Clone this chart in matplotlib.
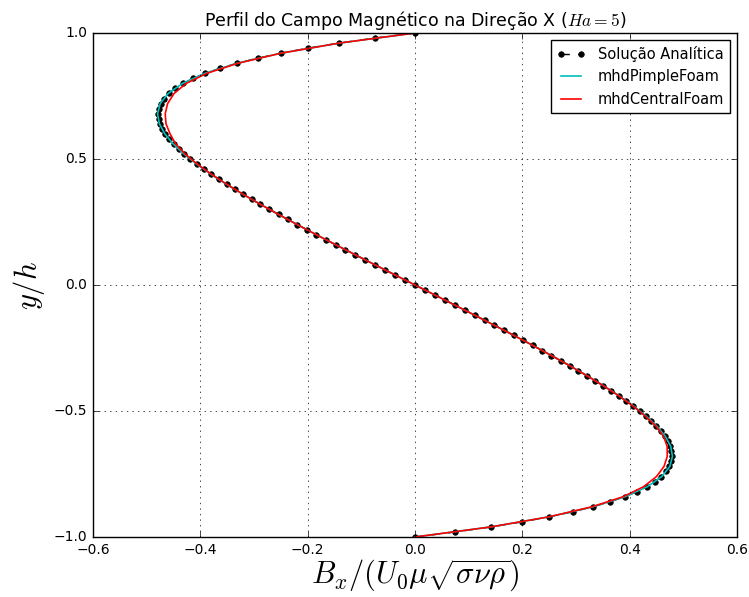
import matplotlib
matplotlib.use('Agg')
import matplotlib.pyplot as plt
import numpy as np

plt.style.use('classic')
plt.rcParams['mathtext.fontset'] = 'cm'
plt.rcParams['figure.facecolor'] = 'white'

# solucao analitica, y/h de -1 a 1 (passo 0.02), metade superior
y_analitica_sup = [0.00, 0.02, 0.04, 0.06, 0.08, 0.10, 0.12, 0.14, 0.16, 0.18,
                   0.20, 0.22, 0.24, 0.26, 0.28, 0.30, 0.32, 0.34, 0.36, 0.38,
                   0.40, 0.42, 0.44, 0.46, 0.48, 0.50, 0.52, 0.54, 0.56, 0.58,
                   0.60, 0.62, 0.64, 0.66, 0.68, 0.70, 0.72, 0.74, 0.76, 0.78,
                   0.80, 0.82, 0.84, 0.86, 0.88, 0.90, 0.92, 0.94, 0.96, 0.98,
                   1.00]
bx_analitica_sup = [0.0, -0.0187, -0.0373, -0.0559, -0.0745, -0.0930, -0.1114, -0.1298, -0.1480, -0.1662,
                    -0.1842, -0.2020, -0.2197, -0.2371, -0.2543, -0.2713, -0.2880, -0.3044, -0.3204, -0.3360,
                    -0.3511, -0.3658, -0.3799, -0.3935, -0.4063, -0.4185, -0.4298, -0.4402, -0.4496, -0.4579,
                    -0.4650, -0.4707, -0.4750, -0.4776, -0.4783, -0.4771, -0.4736, -0.4676, -0.4589, -0.4473,
                    -0.4322, -0.4135, -0.3908, -0.3635, -0.3312, -0.2935, -0.2497, -0.1992, -0.1413, -0.0752,
                    0.0]

# mhdPimpleFoam e mhdCentralFoam (passo 0.04)
y_num = [-1.00, -0.96, -0.92, -0.88, -0.84, -0.80, -0.76, -0.72, -0.68, -0.64,
         -0.60, -0.56, -0.52, -0.48, -0.44, -0.40, -0.36, -0.32, -0.28, -0.24,
         -0.20, -0.16, -0.12, -0.08, -0.04, 0.00, 0.04, 0.08, 0.12, 0.16,
         0.20, 0.24, 0.28, 0.32, 0.36, 0.40, 0.44, 0.48, 0.52, 0.56,
         0.60, 0.64, 0.68, 0.72, 0.76, 0.80, 0.84, 0.88, 0.92, 0.96, 1.00]
bx_pimple = [0.0, 0.1413, 0.2500, 0.3318, 0.3916, 0.4332, 0.4600, 0.4748, 0.4797, 0.4764,
             0.4662, 0.4506, 0.4306, 0.4071, 0.3805, 0.3515, 0.3206, 0.2881, 0.2544, 0.2197,
             0.1842, 0.1480, 0.1114, 0.0745, 0.0373, 0.0, -0.0373, -0.0745, -0.1114, -0.1480,
             -0.1842, -0.2197, -0.2544, -0.2881, -0.3206, -0.3515, -0.3805, -0.4071, -0.4306, -0.4506,
             -0.4662, -0.4764, -0.4797, -0.4748, -0.4600, -0.4332, -0.3916, -0.3318, -0.2500, -0.1413, 0.0]
bx_central = [0.0, 0.1413, 0.2495, 0.3300, 0.3880, 0.4262, 0.4500, 0.4640, 0.4700, 0.4698,
              0.4630, 0.4490, 0.4290, 0.4060, 0.3798, 0.3511, 0.3203, 0.2880, 0.2543, 0.2197,
              0.1842, 0.1480, 0.1114, 0.0745, 0.0373, 0.0, -0.0373, -0.0745, -0.1114, -0.1480,
              -0.1842, -0.2197, -0.2543, -0.2880, -0.3203, -0.3511, -0.3797, -0.4058, -0.4285, -0.4460,
              -0.4565, -0.4640, -0.4655, -0.4610, -0.4490, -0.4265, -0.3880, -0.3300, -0.2495, -0.1413, 0.0]

# curva analitica completa (antissimetrica)
y_analitica = [-v for v in y_analitica_sup[:0:-1]] + y_analitica_sup
bx_analitica = [-v for v in bx_analitica_sup[:0:-1]] + bx_analitica_sup

fig = plt.figure(figsize=(7.49, 5.97), dpi=100)
ax = fig.add_axes([0.1242, 0.1005, 0.8598, 0.8442])

ax.plot(bx_analitica, y_analitica, 'k--', marker='o', markersize=4,
        markeredgecolor='k', label=u'Solução Analítica')
ax.plot(bx_pimple, y_num, 'c-', lw=1.2, label='mhdPimpleFoam')
ax.plot(bx_central, y_num, 'r-', lw=1.2, label='mhdCentralFoam')

ax.set_xlim(-0.6, 0.6)
ax.set_ylim(-1.0, 1.0)
ax.set_xticks(np.arange(-0.6, 0.61, 0.2))
ax.set_yticks(np.arange(-1.0, 1.01, 0.5))
ax.tick_params(labelsize=10)
ax.grid(True)

ax.set_title(u'Perfil do Campo Magnético na Direção X ($Ha=5$)', fontsize=12.5)
ax.set_xlabel(r'$B_x/(U_0\mu\sqrt{\sigma\nu\rho})$', fontsize=22, labelpad=1)
ax.set_ylabel(r'$y/h$', fontsize=22)

ax.legend(loc='upper right', fontsize=10.5, numpoints=2)

fig.savefig('out.png', dpi=100, facecolor='white')
